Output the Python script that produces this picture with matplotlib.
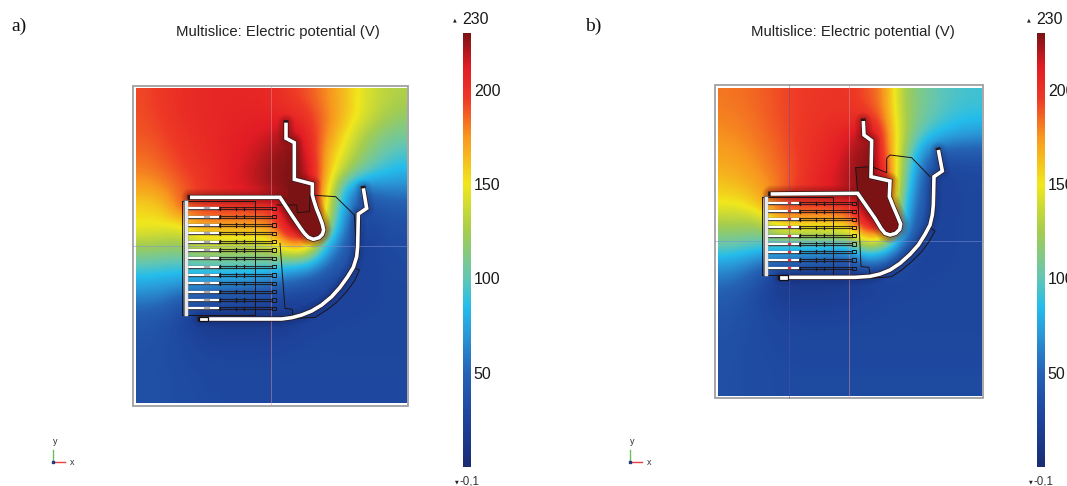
import numpy as np
import matplotlib
matplotlib.use("Agg")
import matplotlib.pyplot as plt
from matplotlib.colors import LinearSegmentedColormap, Normalize
from matplotlib.cm import ScalarMappable
from matplotlib.patches import Rectangle, Polygon

plt.rcParams['font.family'] = ['Liberation Sans', 'DejaVu Sans']

VMIN, VMAX = -0.1, 230
TITLE = "Multislice: Electric potential (V)"
CBAR_TICKS = [50, 100, 150, 200]

CMAP_VALUES = [-0.1, 25, 50, 70, 85, 100, 125, 150, 175, 195, 212, 230]
CMAP_COLORS = ['#1a2c74', '#1d439b', '#2563b5', '#2a97d6', '#24bdec', '#62c6b4', '#a5cd4f',
               '#f1e71c', '#f8981f', '#ee3a26', '#e21c24', '#7b1315']

FIELD_A = [
 [192,197,202,205,206,206,206,204,196,190,178,165,145,135,128],
 [191,196,201,205,206,207,208,208,205,198,182,165,145,130,120],
 [189,193,198,203,206,209,212,215,225,205,180,155,130,115,108],
 [185,190,196,201,206,210,215,222,230,215,170,145,120,105,95],
 [180,185,192,198,205,212,218,226,230,222,170,130,105,90,82],
 [170,176,186,195,205,212,216,225,230,228,165,85,50,60,62],
 [155,160,188,195,197,197,197,200,230,230,150,75,32,38,42],
 [150,148,145,170,170,170,170,175,228,230,135,62,25,32,35],
 [125,122,120,135,135,135,135,140,175,172,85,50,22,28,32],
 [100,98,95,100,100,100,100,100,90,85,58,35,25,27,30],
 [78,75,72,70,68,66,62,55,50,42,30,25,25,27,28],
 [58,55,42,38,34,30,28,25,22,22,25,25,26,27,28],
 [42,38,28,15,14,14,14,15,18,24,26,27,27,28,28],
 [38,35,30,25,22,22,22,23,25,27,28,28,28,28,28],
 [36,34,31,29,27,27,27,27,28,28,28,28,28,28,28],
 [36,34,32,30,29,29,29,29,29,29,29,29,29,29,29],
 [36,34,33,31,30,30,30,30,30,30,30,30,30,30,30],
]
FIELD_B = [
 [182,184,187,191,195,197,198,198,190,178,125,110,100,95,92],
 [180,182,186,191,195,198,200,200,198,180,128,108,98,90,88],
 [177,180,184,189,195,200,205,210,228,190,130,100,85,78,72],
 [173,176,181,187,195,202,208,218,230,195,125,75,48,45,45],
 [168,172,178,185,193,204,210,222,230,208,118,60,25,28,30],
 [160,165,172,182,196,208,214,224,230,215,110,50,22,27,28],
 [148,150,165,195,198,198,198,205,230,200,95,45,22,27,28],
 [125,125,125,160,160,160,160,165,225,220,85,35,25,27,28],
 [108,105,100,105,105,105,105,110,150,130,55,28,25,27,28],
 [78,72,62,55,52,48,44,40,65,50,30,25,26,27,28],
 [58,50,35,16,14,14,14,15,20,25,27,27,27,28,28],
 [45,38,28,20,18,18,20,22,25,27,27,27,28,28,28],
 [40,35,30,26,25,25,25,26,27,27,28,28,28,28,28],
 [37,34,31,29,28,28,28,28,28,28,28,28,28,28,28],
 [36,33,31,30,29,29,29,29,29,29,29,29,29,29,29],
 [35,33,32,31,30,30,30,30,30,30,30,30,30,30,30],
 [35,33,32,31,31,31,31,31,31,31,31,31,31,31,31],
]

UPPER_A = [(483,128),(483,175),(508,188),(508,298),(562,312),(562,345),(566,360),(574,385),(584,410),(592,432),(596,450),(592,463),(582,473),(565,478),(550,472),(538,460),(525,442),(500,405),(465,352),(195,352)]
LOWER_A = [(715,325),(725,385),(700,402),(698,500),(695,530),(685,562),(668,590),(645,622),(620,650),(590,675),(560,693),(530,705),(500,713),(470,717),(225,717)]
ARC_A = [(685,562),(703,570),(690,600),(665,635),(635,667),(605,690),(570,712),(500,716)]
CORE_A = [(490,300),(562,312),(562,345),(574,385),(592,432),(596,450),(582,473),(565,478),(550,472),(525,442),(465,352),(490,352)]
THIN_A = [[(172,362),(390,362),(390,705),(172,705),(172,362)],
          [(455,375),(515,375),(517,398),(553,395),(555,345),(632,350),(688,405),(692,470)],
          [(465,490),(480,685),(502,688),(503,712)]]
TEETH_A = [385,410,435,460,485,510,535,560,585,610,635,660,685]
COMB_A = dict(bar=183, top=365, bottom=703)

UPPER_B = [(475,138),(477,180),(500,197),(498,305),(555,318),(553,365),(565,395),(578,425),(587,447),(584,463),(572,475),(555,480),(540,475),(528,460),(510,430),(458,355),(197,357)]
LOWER_B = [(700,225),(712,288),(687,305),(685,390),(682,420),(675,450),(660,478),(640,510),(615,538),(585,565),(555,585),(525,597),(495,604),(450,607),(225,607)]
ARC_B = [(675,458),(690,468),(672,500),(650,530),(620,560),(590,585),(560,605),(495,610)]
CORE_B = [(452,278),(500,278),(498,305),(555,318),(553,365),(565,395),(587,447),(572,475),(555,480),(540,475),(510,430),(458,355)]
THIN_B = [[(172,367),(385,367),(385,600),(172,600),(172,367)],
          [(452,278),(500,275),(545,293),(545,250),(555,240),(620,248),(675,305)],
          [(452,278),(458,355),(468,575),(492,577),(496,607)]]
TEETH_B = [385,409,433,457,482,507,530,555,580]
COMB_B = dict(bar=183, top=370, bottom=597)

W, H = 1067, 486
fig = plt.figure(figsize=(W/100, H/100), dpi=100)
stops = [(v - VMIN) / (VMAX - VMIN) for v in CMAP_VALUES]
cmap = LinearSegmentedColormap.from_list('comsol', list(zip(stops, CMAP_COLORS)), N=512)
norm = Normalize(VMIN, VMAX)

def px_axes(x0, y0, x1, y1):
    return fig.add_axes([x0/W, 1 - y1/H, (x1-x0)/W, (y1-y0)/H])

def halo(ax, pts, color, alpha):
    x, y = zip(*pts)
    for lw in (12, 9.5, 7.5, 5.5):
        ax.plot(x, y, color=color, lw=lw, alpha=alpha, solid_joinstyle='round', solid_capstyle='round', zorder=2.5)

def electrode(ax, pts):
    x, y = zip(*pts)
    ax.plot(x, y, color='#2a1414', lw=3.6, solid_joinstyle='miter', solid_capstyle='projecting', zorder=5)
    ax.plot(x, y, color='white', lw=2.6, solid_joinstyle='miter', solid_capstyle='butt', zorder=6)

def panel(ox, oy, field, frame, img, upper, lower, arc, core, thin, teeth, comb, vline, hline, extra_v=None):
    fx0, fy0, fx1, fy1 = frame
    ax = px_axes(ox + fx0/3 - 2, oy + fy0/3 - 2, ox + fx1/3 + 2, oy + fy1/3 + 2)
    ix0, iy0, ix1, iy1 = img
    ax.imshow(field, extent=[ix0, ix1, iy1, iy0], cmap=cmap, norm=norm, interpolation='bicubic', aspect='auto', zorder=1)
    ax.set_xlim(fx0 - 6, fx1 + 6)
    ax.set_ylim(fy1 + 6, fy0 - 6)
    ax.axis('off')
    ax.add_patch(Polygon(core, closed=True, fc=cmap(norm(VMAX)), ec='none', zorder=2))
    halo(ax, upper, '#7b1315', 0.13)
    halo(ax, lower, '#14235f', 0.07)
    ax.add_patch(Rectangle((fx0, fy0), fx1-fx0, fy1-fy0, fill=False, ec='#a0a0a0', lw=1.3, zorder=3))
    ax.plot([vline, vline], [fy0, fy1], color='#d98a9a', lw=0.6, alpha=0.6, zorder=3)
    ax.plot([fx0, fx1], [hline, hline], color='#7f8fd0', lw=0.6, alpha=0.6, zorder=3)
    if extra_v is not None:
        ax.plot([extra_v, extra_v], [fy0, fy1], color='#5a4fb0', lw=0.6, alpha=0.5, zorder=3)
    for seg in thin + [arc]:
        x, y = zip(*seg)
        ax.plot(x, y, color='#1c1414', lw=0.7, zorder=4)
    for t in teeth:
        ax.plot([comb['bar'], 278], [t, t], color='#30303a', lw=2.4, zorder=4)
        ax.plot([comb['bar'], 278], [t, t], color='white', lw=1.6, zorder=5)
        ax.plot([280, 442], [t-3, t-3], color='#1c1414', lw=0.8, alpha=0.85, zorder=4)
        ax.plot([280, 442], [t+3, t+3], color='#1c1414', lw=0.9, alpha=0.85, zorder=4)
        for m in (285, 333, 358):
            ax.plot([m, m], [t-5, t+5], color='#1c1414', lw=0.9, zorder=4)
        ax.add_patch(Rectangle((441, t-5), 13, 10, fill=False, ec='#1c1414', lw=0.7, zorder=4))
        if extra_v is None:
            ax.plot([240, 252], [t, t], color='#a8a8a8', lw=1.6, zorder=6)
        else:
            ax.plot([extra_v-1, extra_v+1], [t, t], color='#e8303a', lw=1.6, zorder=6)
    ax.plot([comb['bar'], comb['bar']], [comb['top'], comb['bottom']], color='#666', lw=3.2, zorder=5)
    ax.plot([comb['bar'], comb['bar']], [comb['top'], comb['bottom']], color='#e8e8e8', lw=2.4, zorder=6)
    electrode(ax, upper)
    electrode(ax, lower)
    by = lower[-1][1]
    ax.add_patch(Rectangle((222, by-7), 28, 14, fc='white', ec='#111', lw=0.9, zorder=7))
    return ax

panel(125, 80, FIELD_A, (25,18,850,978), (33,27,845,970), UPPER_A, LOWER_A, ARC_A, CORE_A, THIN_A, TEETH_A, COMB_A, 437, 498)
panel(705, 75, FIELD_B, (30,30,833,968), (38,40,828,962), UPPER_B, LOWER_B, ARC_B, CORE_B, THIN_B, TEETH_B, COMB_B, 432, 499, extra_v=253)

def colorbar(x0):
    cax = px_axes(x0, 33, x0+8, 467)
    cb = fig.colorbar(ScalarMappable(norm=norm, cmap=cmap), cax=cax, ticks=CBAR_TICKS)
    cb.outline.set_visible(False)
    cax.tick_params(length=0, pad=2.0, labelsize=11.5, labelcolor='#1a1a1a')
    fig.text((x0-8)/W, 1-19.5/H, '▲', fontsize=3.5, ha='center', va='center', family='DejaVu Sans', color='#222')
    fig.text((x0-1)/W, 1-19.5/H, '230', fontsize=11.5, ha='left', va='center', color='#1a1a1a')
    fig.text((x0-6)/W, 1-481.5/H, '▼', fontsize=3.5, ha='center', va='center', family='DejaVu Sans', color='#222')
    fig.text((x0-3)/W, 1-481.5/H, '-0,1', fontsize=8.3, ha='left', va='center', color='#333')

colorbar(463)
colorbar(1037)

fig.text(277.5/W, 1-32/H, TITLE, fontsize=10.75, ha='center', va='center', color='#222')
fig.text(852.5/W, 1-32/H, TITLE, fontsize=10.75, ha='center', va='center', color='#222')
fig.text(11/W, 1-26/H, 'a)', fontsize=14, family='Liberation Serif', ha='left', va='center', color='#111')
fig.text(585/W, 1-26/H, 'b)', fontsize=14, family='Liberation Serif', ha='left', va='center', color='#111')

overlay = fig.add_axes([0, 0, 1, 1])
overlay.set_xlim(0, W); overlay.set_ylim(H, 0); overlay.axis('off'); overlay.patch.set_alpha(0)
for x0 in (53, 630):
    overlay.plot([x0, x0], [462, 450], color='#6abf5a', lw=1.0)
    overlay.plot([x0, x0+12], [462, 462], color='#e8413a', lw=1.0)
    overlay.plot([x0], [462], 's', ms=1.6, color='#223a80')
    overlay.text(x0+2, 441, 'y', fontsize=6.5, ha='center', va='center', color='#333')
    overlay.text(x0+19, 462, 'x', fontsize=6.5, ha='center', va='center', color='#333')

fig.savefig('out.png', dpi=100)
